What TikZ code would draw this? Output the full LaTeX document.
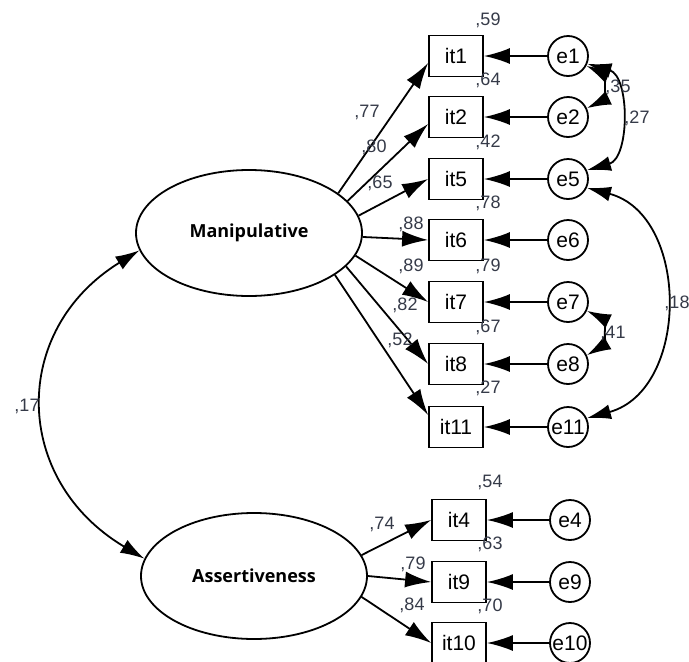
\documentclass[tikz,border=0pt]{standalone}
\usepackage{fontspec}
\setmainfont{Liberation Sans}
\newfontfamily\latfont{Open Sans}
\usetikzlibrary{shapes.geometric,arrows.meta}
\definecolor{lbl}{HTML}{353A48}
\begin{document}
\begin{tikzpicture}[x=1pt,y=-1pt,
  line width=1.8pt,
  obs/.style={draw, rectangle, minimum width=54pt, minimum height=41pt, inner sep=0pt, font=\fontsize{21}{21}\selectfont},
  err/.style={draw, circle, minimum size=40pt, inner sep=0pt, font=\fontsize{21}{21}\selectfont},
  lat/.style={draw, ellipse, minimum width=226pt, minimum height=126pt, inner sep=0pt, font=\latfont\bfseries\fontsize{18}{18}\selectfont},
  arr/.style={-{Latex[length=26pt,width=16pt]}},
  cov/.style={{Latex[length=24pt,width=15pt]}-{Latex[length=24pt,width=15pt]}},
  num/.style={font=\fontsize{18}{18}\selectfont, text=lbl, inner sep=0pt}]
\useasboundingbox (0,0) rectangle (689,662);
% latent variables
\node[lat] (man) at (249,233) {Manipulative};
\node[lat] (ass) at (254,576) {Assertiveness};
% observed
\node[obs] (it1) at (456,56) {it1};
\node[obs] (it2) at (456,117) {it2};
\node[obs] (it5) at (456,179) {it5};
\node[obs] (it6) at (456,240) {it6};
\node[obs] (it7) at (456,302) {it7};
\node[obs] (it8) at (456,364) {it8};
\node[obs] (it11) at (456,427) {it11};
\node[obs] (it4) at (459,520) {it4};
\node[obs] (it9) at (459,582) {it9};
\node[obs] (it10) at (459,643) {it10};
% errors
\node[err] (e1) at (568,56) {e1};
\node[err] (e2) at (568,117) {e2};
\node[err] (e5) at (568,179) {e5};
\node[err] (e6) at (568,240) {e6};
\node[err] (e7) at (568,302) {e7};
\node[err] (e8) at (568,364) {e8};
\node[err] (e11) at (568,427) {e11};
\node[err] (e4) at (570,520) {e4};
\node[err] (e9) at (570,582) {e9};
\node[err] (e10) at (570,643) {e10};
% loadings
\draw[arr] (man.24) -- ([yshift=-7pt]it1.west);
\draw[arr] (man.18) -- ([yshift=-7pt]it2.west);
\draw[arr] (man.9) -- (it5.west);
\draw[arr] (man.-2) -- (it6.west);
\draw[arr] (man.-12) -- (it7.west);
\draw[arr] (man.-19) -- (it8.west);
\draw[arr] (man.-26) -- ([yshift=12pt]it11.west);
\draw[arr] (ass.11) -- (it4.west);
\draw[arr] (ass.0) -- (it9.west);
\draw[arr] (ass.-11) -- (it10.west);
% error paths
\foreach \i in {1,2,5,6,7,8,11,4,9,10}{
  \draw[arr] (e\i) -- (it\i);
}
% covariances
\draw[cov] (e1.-28) .. controls (604,74) and (604,100) .. (e2.25);
\draw[cov] (e1.-22) .. controls (630,76) and (630,158) .. (e5.25);
\draw[cov] (e5.-25) .. controls (690,215) and (690,390) .. (e11.25);
\draw[cov] (e7.-25) .. controls (604,319) and (604,345) .. (e8.25);
\draw[cov] (man.189) .. controls (10,330) and (12,480) .. (ass.171);
% squared multiple correlations
\node[num] (r1) at (488,20) {,59};
\node[num] (r2) at (488,80) {,64};
\node[num] (r5) at (488,142) {,42};
\node[num] (r6) at (488,203) {,78};
\node[num] (r7) at (488,266) {,79};
\node[num] (r8) at (488,327) {,67};
\node[num] (r11) at (488,388) {,27};
\node[num] (r4) at (490,482) {,54};
\node[num] (r9) at (490,544) {,63};
\node[num] (r10) at (490,606) {,70};
% loadings labels
\node[num] (l1) at (367,112) {,77};
\node[num] (l2) at (374,147) {,80};
\node[num] (l5) at (380,183) {,65};
\node[num] (l6) at (411,224) {,88};
\node[num] (l7) at (411,266) {,89};
\node[num] (l8) at (405,305) {,82};
\node[num] (l11) at (400,340) {,52};
\node[num] (l4) at (382,524) {,74};
\node[num] (l9) at (413,564) {,79};
\node[num] (l10) at (412,605) {,84};
% covariance labels
\node[num] (c12) at (618,87) {,35};
\node[num] (c15) at (637,118) {,27};
\node[num] (c511) at (677,303) {,18};
\node[num] (c78) at (613,333) {,41};
\node[num] (cma) at (27,406) {,17};
\end{tikzpicture}
\end{document}
